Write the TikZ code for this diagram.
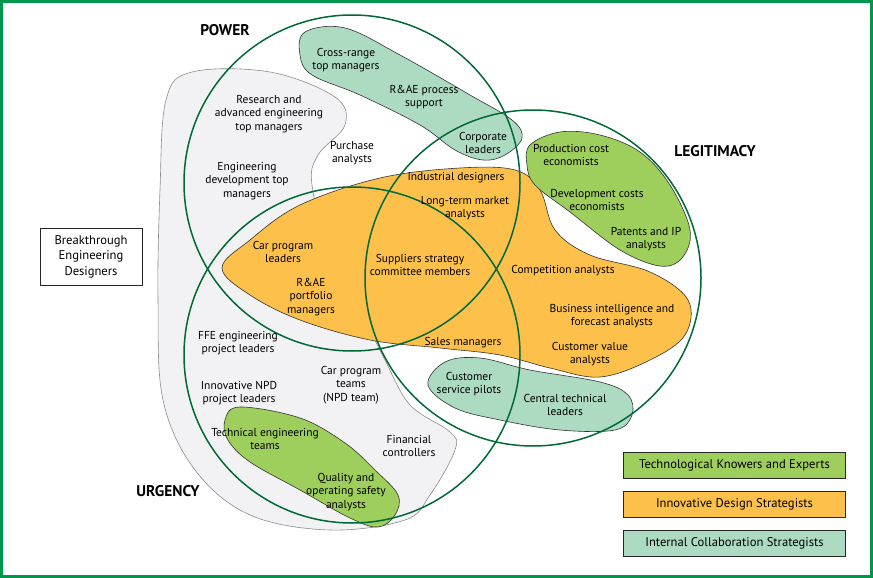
\documentclass[tikz,border=0pt]{standalone}
\usepackage{fontspec}
\setmainfont{PT Sans}
\usepackage{xcolor}
\usepackage{tikz}

\definecolor{frameg}{RGB}{0,150,75}
\definecolor{ringg}{RGB}{0,105,55}
\definecolor{orangef}{RGB}{253,193,75}
\definecolor{greenf}{RGB}{158,206,92}
\definecolor{tealf}{RGB}{172,219,193}
\definecolor{grayf}{RGB}{242,242,244}

\tikzset{
  lbl/.style={align=center, inner sep=0pt, font=\fontsize{11.5}{13.5}\selectfont},
  head/.style={inner sep=0pt, font=\fontsize{15.5}{17}\selectfont\bfseries},
  blob/.style={draw=black!80, line width=0.6pt},
  ring/.style={draw=ringg, line width=1.5pt},
  keybox/.style={draw=black!85, line width=0.8pt, minimum width=222pt, minimum height=26pt, inner sep=0pt, font=\fontsize{12.6}{14}\selectfont},
}

\begin{document}
\begin{tikzpicture}[x=1pt, y=-1pt]
\useasboundingbox (0,0) rectangle (873,578);
\coordinate (P) at (352,183);
\coordinate (L) at (533,278);
\coordinate (U) at (352,355);

% stakeholder groups
\filldraw[fill=grayf, draw=black!45, line width=0.6pt] plot[smooth cycle, tension=0.6] coordinates {
  (192,72) (270,72) (335,97) (345,125) (318,155) (312,185) (330,250) (370,330)
  (385,360) (410,405) (450,432) (455,450) (430,495) (405,520) (330,530) (250,515)
  (195,470) (163,400) (158,300) (160,190) (166,100)};
\filldraw[blob, fill=orangef] plot[smooth cycle, tension=0.6] coordinates {
  (222,268) (250,240) (300,205) (380,178) (460,168) (515,170) (540,190) (555,230)
  (590,255) (650,272) (688,300) (685,335) (650,360) (600,377) (550,368) (500,355)
  (440,348) (370,340) (300,320) (250,295)};
\filldraw[blob, fill=tealf] plot[smooth cycle, tension=0.6] coordinates {
  (305,32) (345,28) (400,55) (470,95) (512,120) (522,138) (505,155) (483,160)
  (455,150) (420,125) (360,95) (312,75) (300,55)};
\filldraw[blob, fill=tealf] plot[smooth cycle, tension=0.6] coordinates {
  (428,385) (445,362) (480,358) (530,370) (600,382) (628,395) (632,415) (615,430)
  (560,430) (500,420) (455,408)};
\filldraw[blob, fill=greenf] plot[smooth cycle, tension=0.6] coordinates {
  (530,145) (560,132) (600,135) (640,152) (670,185) (690,230) (682,258) (660,266)
  (620,250) (570,212) (535,185) (527,165)};
\filldraw[blob, fill=greenf] plot[smooth cycle, tension=0.6] coordinates {
  (225,420) (240,407) (300,418) (345,443) (375,470) (398,495) (395,515) (378,527)
  (350,518) (300,490) (250,462) (228,440)};

% attributes
\foreach \c in {P,L,U}{
  \draw[ring] (\c) circle (168pt);
}
\node[head] (power) at (225,30) {POWER};
\node[head] (legit) at (715,151) {LEGITIMACY};
\node[head] (urgency) at (168,491) {URGENCY};

% actors
\node[lbl] (crossrange) at (346,60) {Cross-range\\top managers};
\node[lbl] (process) at (424,97) {R\&AE process\\support};
\node[lbl] (corporate) at (483,143) {Corporate\\leaders};
\node[lbl] (research) at (269,114) {Research and\\advanced engineering\\top managers};
\node[lbl] (engdev) at (247,181) {Engineering\\development top\\managers};
\node[lbl] (purchase) at (352,153) {Purchase\\analysts};
\node[lbl] (prodcost) at (571,155) {Production cost\\economists};
\node[lbl] (devcost) at (597,200) {Development costs\\economists};
\node[lbl] (patents) at (646,239) {Patents and IP\\analysts};
\node[lbl] (industrial) at (456,178) {Industrial designers};
\node[lbl] (longterm) at (465,208) {Long-term market\\analysts};
\node[lbl] (carleaders) at (283,252) {Car program\\leaders};
\node[lbl] (suppliers) at (420,265) {Suppliers strategy\\committee members};
\node[lbl] (portfolio) at (311,297) {R\&AE\\portfolio\\managers};
\node[lbl] (competition) at (563,271) {Competition analysts};
\node[lbl] (business) at (612,316) {Business intelligence and\\forecast analysts};
\node[lbl] (custvalue) at (590,354) {Customer value\\analysts};
\node[lbl] (sales) at (463,343) {Sales managers};
\node[lbl] (ffe) at (238,343) {FFE engineering\\project leaders};
\node[lbl] (npd) at (239,393) {Innovative NPD\\project leaders};
\node[lbl] (carteams) at (351,385) {Car program\\teams\\(NPD team)};
\node[lbl] (techteams) at (265,439) {Technical engineering\\teams};
\node[lbl] (financial) at (409,446) {Financial\\controllers};
\node[lbl] (quality) at (346,492) {Quality and\\operating safety\\analysts};
\node[lbl] (custservice) at (469,384) {Customer\\service pilots};
\node[lbl] (central) at (565,405) {Central technical\\leaders};

% outsiders
\node[lbl, draw=black!85, line width=0.8pt, minimum width=102pt, minimum height=57pt,
  font=\fontsize{12.6}{15.5}\selectfont] (breakthrough) at (91,256.5) {Breakthrough\\Engineering\\Designers};

% legend
\foreach \n/\f/\t [count=\i] in {techkey/greenf/Technological Knowers and Experts,
    innovkey/orangef/Innovative Design Strategists,
    collabkey/tealf/Internal Collaboration Strategists}{
  \node[keybox, fill=\f] (\n) at (734.5, {465+39*(\i-1)}) {\t};
}

\draw[frameg, line width=3pt] (1.5,1.5) rectangle (871.5,576.5);
\end{tikzpicture}
\end{document}
